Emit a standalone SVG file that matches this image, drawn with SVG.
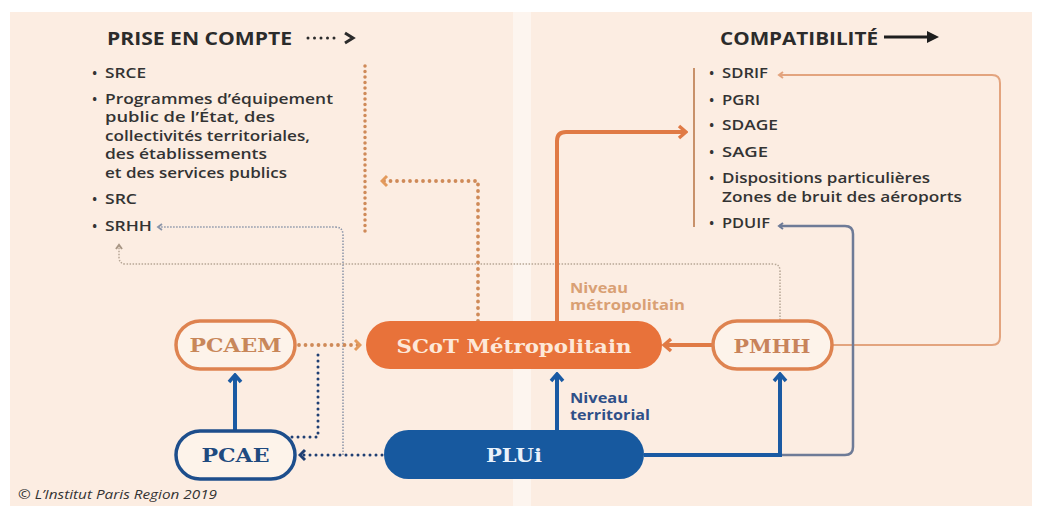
<svg xmlns="http://www.w3.org/2000/svg" width="1040" height="506" viewBox="0 0 1040 506">
  <style>
    .panel { fill: #fcede2; }
    .gap { fill: #fdf5ef; }
    .head { font-family: "Open Sans", "DejaVu Sans", sans-serif; font-weight: 700; font-size: 17px; fill: #2b2b2b; }
    .list { font-family: "Open Sans", "DejaVu Sans", sans-serif; font-weight: 600; font-size: 14px; fill: #333333; }
    .level { font-family: "Open Sans", "DejaVu Sans", sans-serif; font-weight: 700; font-size: 13.5px; }
    .lvl-metro { fill: #d9a074; }
    .lvl-terr { fill: #2f5088; }
    .label { font-family: "DejaVu Serif", "Liberation Serif", serif; font-weight: 700; font-size: 19px; text-anchor: middle; }
    .outline-orange { fill: #fdf3ea; stroke: #de8350; stroke-width: 3.5; }
    .outline-blue { fill: #fdf3ea; stroke: #1d4e8c; stroke-width: 3.5; }
    .copy { font-family: "Open Sans", "DejaVu Sans", sans-serif; font-style: italic; font-size: 12.5px; fill: #333; }
    .ln { fill: none; }
    .solid-blue { stroke: #1a5aa3; stroke-width: 4; }
    .solid-orange { stroke: #e07a45; stroke-width: 4; }
    .thin-orange { stroke: #e3a47e; stroke-width: 2; }
    .thin-slate { stroke: #6e7b97; stroke-width: 2.5; }
    .dot-orange { stroke: #cf8a58; stroke-width: 3.8; stroke-dasharray: 0 6.5; stroke-linecap: round; }
    .dot-bracket { stroke: #cf8a58; stroke-width: 3.5; stroke-dasharray: 0 5.5; stroke-linecap: round; }
    .dot-navy { stroke: #1f3f73; stroke-width: 3; stroke-dasharray: 0 6; stroke-linecap: round; }
    .fine-grey { stroke: #8a94a8; stroke-width: 1.5; stroke-dasharray: 1.5 1.5; }
    .fine-beige { stroke: #b7a796; stroke-width: 1.5; stroke-dasharray: 1.5 1.5; }
  </style>
  <defs>
    <marker id="ah-blue" viewBox="-10 -8 12 16" refX="0" refY="0" markerWidth="12" markerHeight="16" markerUnits="userSpaceOnUse" orient="auto">
      <path d="M-7,-6 L0,0 L-7,6" fill="none" stroke="#1a5aa3" stroke-width="3.5"/>
    </marker>
    <marker id="ah-orange" viewBox="-10 -8 12 16" refX="0" refY="0" markerWidth="12" markerHeight="16" markerUnits="userSpaceOnUse" orient="auto">
      <path d="M-7,-6 L0,0 L-7,6" fill="none" stroke="#e07a45" stroke-width="3.5"/>
    </marker>
    <marker id="ah-dot-orange" viewBox="-8 -7 10 14" refX="0" refY="0" markerWidth="10" markerHeight="14" markerUnits="userSpaceOnUse" orient="auto">
      <path d="M-5,-5 L0,0 L-5,5" fill="none" stroke="#e39a5c" stroke-width="3"/>
    </marker>
    <marker id="ah-dot-navy" viewBox="-8 -7 10 14" refX="0" refY="0" markerWidth="10" markerHeight="14" markerUnits="userSpaceOnUse" orient="auto">
      <path d="M-5,-5 L0,0 L-5,5" fill="none" stroke="#1f3f73" stroke-width="3"/>
    </marker>
    <marker id="ah-thin-orange" viewBox="-6 -5 8 10" refX="0" refY="0" markerWidth="8" markerHeight="10" markerUnits="userSpaceOnUse" orient="auto">
      <path d="M-4,-3 L0,0 L-4,3" fill="none" stroke="#e3a47e" stroke-width="2"/>
    </marker>
    <marker id="ah-slate" viewBox="-6 -5 8 10" refX="0" refY="0" markerWidth="8" markerHeight="10" markerUnits="userSpaceOnUse" orient="auto">
      <path d="M-4,-3 L0,0 L-4,3" fill="none" stroke="#6e7b97" stroke-width="2"/>
    </marker>
    <marker id="ah-grey" viewBox="-6 -5 8 10" refX="0" refY="0" markerWidth="8" markerHeight="10" markerUnits="userSpaceOnUse" orient="auto">
      <path d="M-4,-3 L0,0 L-4,3" fill="none" stroke="#8a94a8" stroke-width="1.8"/>
    </marker>
    <marker id="ah-beige" viewBox="-6 -5 8 10" refX="0" refY="0" markerWidth="8" markerHeight="10" markerUnits="userSpaceOnUse" orient="auto">
      <path d="M-4,-3 L0,0 L-4,3" fill="none" stroke="#a89684" stroke-width="2"/>
    </marker>
  </defs>

  <!-- page and the two panels -->
  <rect width="1040" height="506" fill="#ffffff"/>
  <rect class="panel" x="10" y="12" width="503" height="494"/>
  <rect class="gap" x="513" y="12" width="18" height="494"/>
  <rect class="panel" x="531" y="12" width="501" height="494"/>

  <!-- left column: "prise en compte" -->
  <g id="legend-prise">
    <text class="head" x="107" y="45" textLength="185" lengthAdjust="spacingAndGlyphs">PRISE EN COMPTE</text>
    <path d="M308,38 H338" fill="none" stroke="#2b2b2b" stroke-width="3" stroke-dasharray="0 6.5" stroke-linecap="round"/>
    <path d="M345,33 L353,38 L345,43" fill="none" stroke="#2b2b2b" stroke-width="3"/>
  </g>
  <g id="list-prise" class="list">
    <text x="92" y="78">•</text><text x="105" y="78" textLength="41" lengthAdjust="spacingAndGlyphs">SRCE</text>
    <text x="92" y="104">•</text><text x="105" y="104" textLength="228" lengthAdjust="spacingAndGlyphs">Programmes d’équipement</text>
    <text x="105" y="122" textLength="170" lengthAdjust="spacingAndGlyphs">public de l’État, des</text>
    <text x="105" y="141" textLength="205" lengthAdjust="spacingAndGlyphs">collectivités territoriales,</text>
    <text x="105" y="159" textLength="162" lengthAdjust="spacingAndGlyphs">des établissements</text>
    <text x="105" y="178" textLength="182" lengthAdjust="spacingAndGlyphs">et des services publics</text>
    <text x="92" y="204">•</text><text x="105" y="204" textLength="32" lengthAdjust="spacingAndGlyphs">SRC</text>
    <text x="92" y="231">•</text><text x="105" y="231" textLength="47" lengthAdjust="spacingAndGlyphs">SRHH</text>
  </g>

  <!-- right column: "compatibilité" -->
  <g id="legend-compat">
    <text class="head" x="720" y="45" textLength="158" lengthAdjust="spacingAndGlyphs">COMPATIBILITÉ</text>
    <path d="M884,37 H929" fill="none" stroke="#1e1e1e" stroke-width="3"/>
    <path d="M927,31 L939,37 L927,43 Z" fill="#1e1e1e"/>
  </g>
  <g id="list-compat" class="list">
    <text x="709" y="78">•</text><text x="722" y="78" textLength="46" lengthAdjust="spacingAndGlyphs">SDRIF</text>
    <text x="709" y="105">•</text><text x="722" y="105" textLength="38" lengthAdjust="spacingAndGlyphs">PGRI</text>
    <text x="709" y="130">•</text><text x="722" y="130" textLength="56" lengthAdjust="spacingAndGlyphs">SDAGE</text>
    <text x="709" y="157">•</text><text x="722" y="157" textLength="46" lengthAdjust="spacingAndGlyphs">SAGE</text>
    <text x="709" y="183">•</text><text x="722" y="183" textLength="208" lengthAdjust="spacingAndGlyphs">Dispositions particulières</text>
    <text x="722" y="202" textLength="240" lengthAdjust="spacingAndGlyphs">Zones de bruit des aéroports</text>
    <text x="709" y="228">•</text><text x="722" y="228" textLength="48" lengthAdjust="spacingAndGlyphs">PDUIF</text>
  </g>

  <!-- connectors -->
  <g id="connectors">
    <!-- brackets grouping each list -->
    <path class="ln dot-bracket" d="M365,66 V233"/>
    <path class="ln" d="M694,68 V227" stroke="#c8916a" stroke-width="2"/>

    <!-- thin dotted links to the "prise en compte" list -->
    <path class="ln fine-beige" d="M780,320 V271 Q780,264 773,264 H126 Q119,264 119,257 V245" marker-end="url(#ah-beige)"/>
    <path class="ln fine-grey" d="M343,455 V235 Q343,227 335,227 H158" marker-end="url(#ah-grey)"/>

    <!-- SCoT to "prise en compte" (dotted) and to "compatibilité" (solid) -->
    <path class="ln dot-orange" d="M478,321 V181 H382" marker-end="url(#ah-dot-orange)"/>
    <path class="ln solid-orange" d="M557,321 V141 Q557,132 566,132 H686" marker-end="url(#ah-orange)"/>

    <!-- PMHH links -->
    <path class="ln thin-orange" d="M832,345 H992 Q1000,345 1000,337 V83 Q1000,75 992,75 H779" marker-end="url(#ah-thin-orange)"/>
    <path class="ln solid-orange" d="M712,345 H664" marker-end="url(#ah-orange)"/>

    <!-- PLUi to PDUIF -->
    <path class="ln thin-slate" d="M780,455 H845 Q853,455 853,447 V234 Q853,226 845,226 H779" marker-end="url(#ah-slate)"/>

    <!-- PLUi up to SCoT and PMHH -->
    <path class="ln solid-blue" d="M557,430 V374" marker-end="url(#ah-blue)"/>
    <path class="ln solid-blue" d="M644,455 H780 V374" marker-end="url(#ah-blue)"/>

    <!-- PCAE up to PCAEM -->
    <path class="ln solid-blue" d="M235,430 V375" marker-end="url(#ah-blue)"/>

    <!-- PCAEM to SCoT, PCAE to PCAEM link, PLUi to PCAE -->
    <path class="ln dot-orange" d="M299,345 H360" marker-end="url(#ah-dot-orange)"/>
    <path class="ln dot-navy" d="M292,437 H318 V351"/>
    <path class="ln dot-navy" d="M382,455 H300" marker-end="url(#ah-dot-navy)"/>
  </g>

  <!-- level labels -->
  <g id="label-metro" class="level lvl-metro">
    <text x="570" y="293" textLength="58" lengthAdjust="spacingAndGlyphs">Niveau</text>
    <text x="570" y="310" textLength="115" lengthAdjust="spacingAndGlyphs">métropolitain</text>
  </g>
  <g id="label-terr" class="level lvl-terr">
    <text x="570" y="403" textLength="58" lengthAdjust="spacingAndGlyphs">Niveau</text>
    <text x="570" y="420" textLength="80" lengthAdjust="spacingAndGlyphs">territorial</text>
  </g>

  <!-- nodes -->
  <g id="node-pcaem">
    <rect class="outline-orange" x="176" y="321" width="119" height="48" rx="24"/>
    <text class="label" x="235.5" y="352" fill="#c8875a" textLength="92" lengthAdjust="spacingAndGlyphs">PCAEM</text>
  </g>
  <g id="node-scot">
    <rect x="366" y="321" width="296" height="48" rx="24" fill="#e8723a"/>
    <text class="label" x="514" y="353" fill="#fde8d9" textLength="235" lengthAdjust="spacingAndGlyphs">SCoT Métropolitain</text>
  </g>
  <g id="node-pmhh">
    <rect class="outline-orange" x="713" y="321" width="119" height="48" rx="24"/>
    <text class="label" x="772" y="353" fill="#c8835a" textLength="77" lengthAdjust="spacingAndGlyphs">PMHH</text>
  </g>
  <g id="node-pcae">
    <rect class="outline-blue" x="176" y="431" width="119" height="48" rx="24"/>
    <text class="label" x="235.5" y="462" fill="#1f4a7f" textLength="68" lengthAdjust="spacingAndGlyphs">PCAE</text>
  </g>
  <g id="node-plui">
    <rect x="384" y="430" width="260" height="49" rx="24.5" fill="#17599f"/>
    <text class="label" x="514" y="462" fill="#eaf2fb" textLength="56" lengthAdjust="spacingAndGlyphs">PLUi</text>
  </g>

  <text class="copy" x="18" y="499" textLength="199" lengthAdjust="spacingAndGlyphs">© L’Institut Paris Region 2019</text>
</svg>
